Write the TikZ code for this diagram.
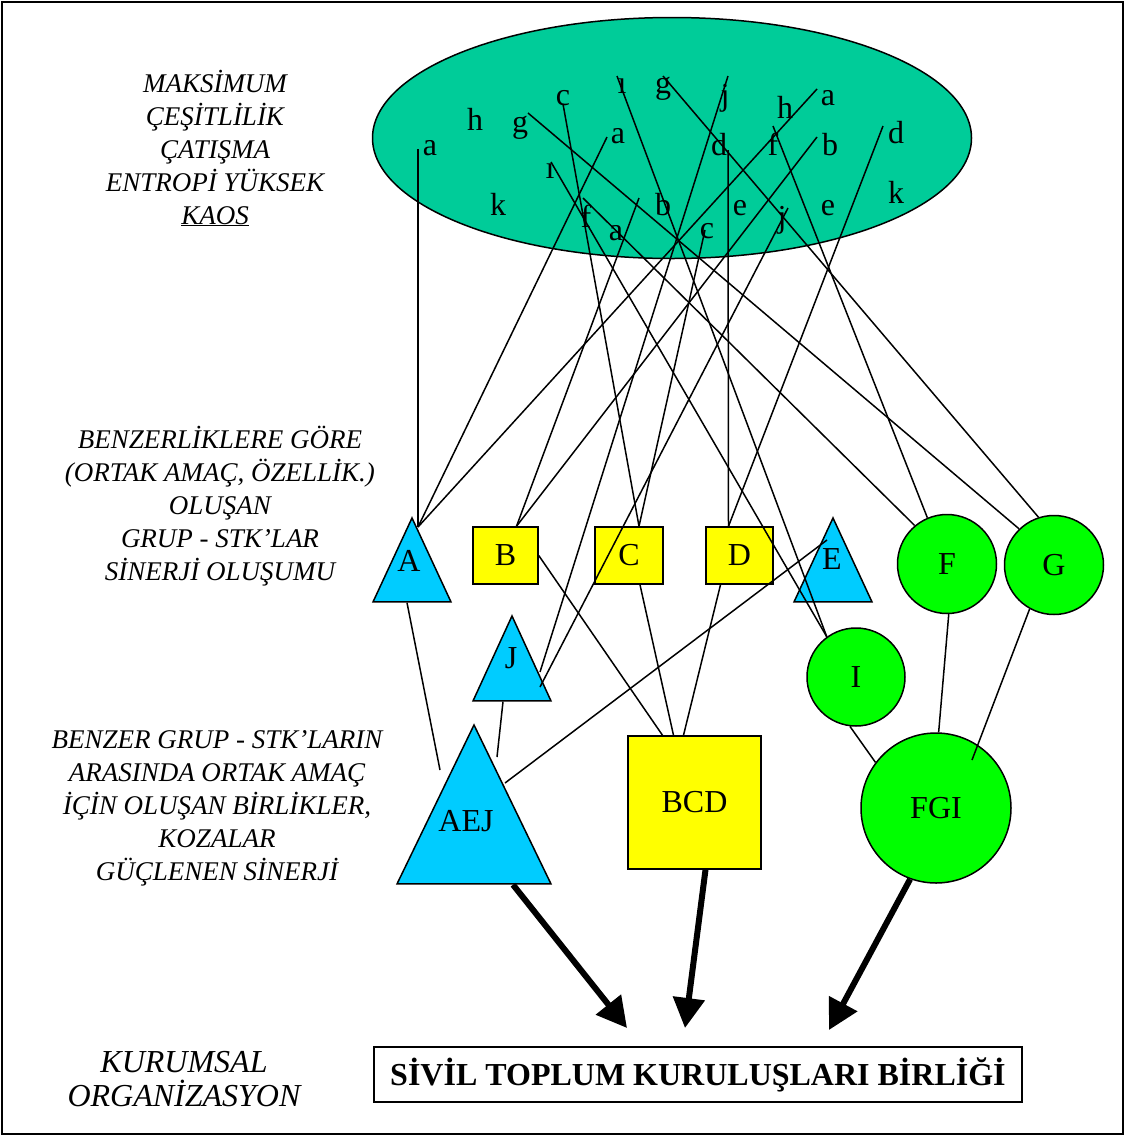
\documentclass[tikz,border=0pt]{standalone}
\usepackage{fontspec}
\setmainfont{Liberation Serif}
\usetikzlibrary{shapes,arrows.meta,calc}

\definecolor{chaosgreen}{RGB}{0,204,153}
\definecolor{triblue}{RGB}{0,204,255}
\definecolor{boxyellow}{RGB}{255,255,0}
\definecolor{circgreen}{RGB}{0,255,0}

\begin{document}
\begin{tikzpicture}[
    x=1pt, y=-1pt,
    letter/.style={font=\fontsize{32}{32}\selectfont, inner sep=0, anchor=base},
    side/.style={font=\fontsize{27}{33}\selectfont\itshape, align=center},
    tri/.style={isosceles triangle, isosceles triangle stretches, shape border rotate=90, draw, line width=1.5pt, fill=triblue, inner sep=0},
    trilabel/.style={font=\fontsize{32}{32}\selectfont, inner sep=0},
    box/.style={rectangle, draw, line width=1.5pt, fill=boxyellow, inner sep=0, font=\fontsize{32}{32}\selectfont},
    blob/.style={circle, draw, line width=1.5pt, fill=circgreen, inner sep=0, font=\fontsize{32}{32}\selectfont},
    link/.style={line width=1.5pt},
    merge/.style={line width=6pt, -{Triangle[length=30pt,width=31pt]}}
]
    \useasboundingbox (0,0) rectangle (1125,1136);
    \draw[line width=1.8pt] (2,2) rectangle (1123,1134);

    % the chaos cloud
    \node[ellipse, draw, line width=1.5pt, fill=chaosgreen, minimum width=599pt, minimum height=241pt] (chaos) at (672,138) {};

    \node[letter] (la1) at (430,155) {a};
    \node[letter] (lh1) at (475,130) {h};
    \node[letter] (lg1) at (520,132) {g};
    \node[letter] (lc1) at (563,105) {c};
    \node[letter] (li1) at (622,93) {ı};
    \node[letter] (lg2) at (663,93) {g};
    \node[letter] (lj1) at (725,105) {j};
    \node[letter] (lh2) at (785,118) {h};
    \node[letter] (la3) at (828,105) {a};
    \node[letter] (la2) at (618,143) {a};
    \node[letter] (ld1) at (719,155) {d};
    \node[letter] (lf2) at (773,155) {f};
    \node[letter] (lb2) at (830,155) {b};
    \node[letter] (ld2) at (896,143) {d};
    \node[letter] (li2) at (550,178) {ı};
    \node[letter] (lk1) at (498,215) {k};
    \node[letter] (lf1) at (586,227) {f};
    \node[letter] (lb1) at (663,215) {b};
    \node[letter] (la4) at (616,240) {a};
    \node[letter] (lc2) at (707,238) {c};
    \node[letter] (le1) at (740,215) {e};
    \node[letter] (lj2) at (782,227) {j};
    \node[letter] (le2) at (828,215) {e};
    \node[letter] (lk2) at (896,203) {k};

    % where the lines leave the letters
    \coordinate (sa1) at (418,149);
    \coordinate (sa2) at (607,137);
    \coordinate (sa3) at (817,89);
    \coordinate (sb1) at (639,198);
    \coordinate (sb2) at (817,137);
    \coordinate (sc1) at (563,104);
    \coordinate (sc2) at (705,230);
    \coordinate (sd1) at (728,150);
    \coordinate (sd2) at (883,126);
    \coordinate (sj1) at (728,76);
    \coordinate (sj2) at (788,208);
    \coordinate (si1) at (617,76);
    \coordinate (si2) at (551,162);
    \coordinate (sf1) at (583,198);
    \coordinate (sf2) at (773,126);
    \coordinate (sg1) at (528,113);
    \coordinate (sg2) at (663,76);

    % groups
    \node[tri, minimum width=78pt, minimum height=84pt, anchor=apex] (A) at (412,516) {};
    \node[trilabel] (Atext) at ([xshift=-3pt,yshift=42pt]A.lower side) {A};
    \node[box, minimum width=65pt, minimum height=57pt] (B) at (505.5,555.5) {B};
    \node[box, minimum width=68pt, minimum height=57pt] (C) at (629,555.5) {C};
    \node[box, minimum width=67pt, minimum height=57pt] (D) at (739.5,555.5) {D};
    \node[tri, minimum width=78pt, minimum height=84pt, anchor=apex] (E) at (833,516) {};
    \node[trilabel] (Etext) at ([xshift=-1pt,yshift=44pt]E.lower side) {E};
    \node[blob, minimum size=99pt] (F) at (947,564) {F};
    \node[blob, minimum size=99pt] (G) at (1054,565) {G};
    \node[tri, minimum width=78pt, minimum height=85pt, anchor=apex] (J) at (512,614) {};
    \node[trilabel] (Jtext) at ([xshift=-1pt,yshift=44pt]J.lower side) {J};
    \node[blob, minimum size=98pt] (I) at (856,677) {I};

    % unions
    \node[tri, minimum width=154pt, minimum height=159pt, anchor=apex] (AEJ) at (474,723) {};
    \node[trilabel] (AEJtext) at ([xshift=-8pt,yshift=64pt]AEJ.lower side) {AEJ};
    \node[box, minimum size=133pt] (BCD) at (694.5,802.5) {BCD};
    \node[blob, minimum size=150pt] (FGI) at (936,808) {FGI};

    \node[draw, line width=1.5pt, minimum width=648pt, minimum height=55pt, font=\fontsize{32}{32}\selectfont\bfseries] (stk) at (698,1074.5) {SİVİL TOPLUM KURULUŞLARI BİRLİĞİ};

    % side notes
    \node[side] (kaos) at (215,148) {MAKSİMUM\\ÇEŞİTLİLİK\\ÇATIŞMA\\ENTROPİ YÜKSEK\\\underline{KAOS}};
    \node[side] (sinerji) at (220,506) {BENZERLİKLERE GÖRE\\(ORTAK AMAÇ, ÖZELLİK.)\\OLUŞAN\\GRUP - STK’LAR\\SİNERJİ OLUŞUMU};
    \node[side] (koza) at (217,808) {BENZER GRUP - STK’LARIN\\ARASINDA ORTAK AMAÇ\\İÇİN OLUŞAN BİRLİKLER,\\KOZALAR\\GÜÇLENEN SİNERJİ};
    \node[side, font=\fontsize{32}{34}\selectfont\itshape] (kurum) at (184,1079) {KURUMSAL\\ORGANİZASYON};

    % letters to groups
    \draw[link] (sa1) -- ([xshift=6pt,yshift=-11pt]A.apex);
    \draw[link] (sa2) -- ([xshift=6pt,yshift=-11pt]A.apex);
    \draw[link] (sa3) -- ([xshift=6pt,yshift=-11pt]A.apex);
    \draw[link] (sb1) -- ([xshift=11pt]B.north);
    \draw[link] (sb2) -- ([xshift=11pt]B.north);
    \draw[link] (sc1) -- ([xshift=10pt]C.north);
    \draw[link] (sc2) -- ([xshift=10pt]C.north);
    \draw[link] (sd1) -- ([xshift=-11pt]D.north);
    \draw[link] (sd2) -- ([xshift=-11pt]D.north);
    \draw[link] (sj1) -- ([xshift=28pt,yshift=-58pt]J.apex);
    \draw[link] (sj2) -- ([xshift=28pt,yshift=-73pt]J.apex);
    \draw[link] (si1) -- (I.126);
    \draw[link] (si2) -- (I.126);
    \draw[link] (sf1) -- (F.130);
    \draw[link] (sf2) -- (F.113);
    \draw[link] (sg1) -- (G.134);
    \draw[link] (sg2) -- (G.108);

    % groups to unions
    \draw[link] ([xshift=-5pt]A.lower side) -- ([xshift=-34pt,yshift=-47pt]AEJ.apex);
    \draw[link] ([xshift=-9pt]J.lower side) -- ([xshift=23pt,yshift=-34pt]AEJ.apex);
    \draw[link] ([xshift=-6pt,yshift=-24pt]E.apex) -- ([xshift=31pt,yshift=-60pt]AEJ.apex);
    \draw[link] (B.east) -- ([xshift=-32pt]BCD.north);
    \draw[link] ([xshift=11pt]C.south) -- ([xshift=-21pt]BCD.north);
    \draw[link] ([xshift=-19pt]D.south) -- ([xshift=-11pt]BCD.north);
    \draw[link] (I.-97) -- (FGI.143);
    \draw[link] (F.-88) -- (FGI.88);
    \draw[link] (G.-119) -- ([xshift=36pt,yshift=48pt]FGI.center);

    % unions to the federation
    \coordinate (t1) at (627,1028);
    \coordinate (t2) at (685,1028);
    \coordinate (t3) at (829,1030);
    \draw[merge] ([xshift=39pt]AEJ.lower side) -- (t1);
    \draw[merge] ([xshift=11pt]BCD.south) -- (t2);
    \draw[merge] (FGI.-110) -- (t3);
\end{tikzpicture}
\end{document}
